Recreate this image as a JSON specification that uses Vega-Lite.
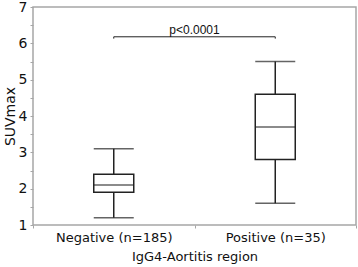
{
  "$schema": "https://vega.github.io/schema/vega-lite/v6.json",
  "width": 323,
  "height": 218,
  "autosize": {"type": "none"},
  "padding": {"left": 33, "top": 7, "right": 2, "bottom": 42},
  "background": "white",
  "config": {
    "view": {"stroke": "#a6a6a6", "strokeWidth": 1.5},
    "font": "DejaVu Sans",
    "axis": {"labelOverlap": false}
  },
  "resolve": {"axis": {"y": "independent"}},
  "datasets": {
    "boxes": [
      {"group": "Negative (n=185)", "min": 1.2, "q1": 1.9, "median": 2.1, "q3": 2.4, "max": 3.1},
      {"group": "Positive (n=35)", "min": 1.6, "q1": 2.8, "median": 3.7, "q3": 4.6, "max": 5.5}
    ],
    "bracket": [
      {"from": "Negative (n=185)", "to": "Positive (n=35)", "y": 6.18, "yend": 6.13, "label": "p<0.0001"}
    ]
  },
  "layer": [
    {
      "data": {"name": "boxes"},
      "mark": {"type": "rule", "color": "#222222", "strokeWidth": 1.5},
      "encoding": {
        "x": {
          "field": "group", "type": "nominal",
          "scale": {"paddingInner": 0, "paddingOuter": 0},
          "sort": null,
          "axis": {
            "title": "IgG4-Aortitis region",
            "titleFont": "DejaVu Sans", "titleFontSize": 13, "titleFontWeight": "normal", "titleColor": "#111111", "titlePadding": 6,
            "labelFont": "DejaVu Sans", "labelFontSize": 13, "labelColor": "#111111", "labelAngle": 0, "labelPadding": 3,
            "domain": false, "tickBand": "extent", "tickColor": "#a6a6a6", "tickSize": 3, "tickWidth": 1
          }
        },
        "y": {
          "field": "min", "type": "quantitative",
          "scale": {"domain": [1, 7], "nice": false, "zero": false},
          "axis": {
            "orient": "left",
            "title": "SUVmax",
            "titleFont": "DejaVu Sans", "titleFontSize": 14, "titleFontWeight": "normal", "titleColor": "#111111", "titlePadding": 1,
            "values": [1, 2, 3, 4, 5, 6, 7],
            "format": "d",
            "labelOverlap": false,
            "labelFont": "DejaVu Sans", "labelFontSize": 14, "labelColor": "#111111", "labelPadding": 3,
            "grid": false, "domain": false, "tickColor": "#a6a6a6", "tickSize": 3, "tickWidth": 1
          }
        },
        "y2": {"field": "max"}
      }
    },
    {
      "data": {"name": "boxes"},
      "mark": {"type": "bar", "size": 40, "fill": "white", "stroke": "#222222", "strokeWidth": 1.5},
      "encoding": {
        "x": {"field": "group", "type": "nominal", "sort": null},
        "y": {"field": "q1", "type": "quantitative", "axis": null},
        "y2": {"field": "q3"}
      }
    },
    {
      "data": {"name": "boxes"},
      "mark": {"type": "tick", "size": 40, "thickness": 1.5, "color": "#222222"},
      "encoding": {
        "x": {"field": "group", "type": "nominal", "sort": null},
        "y": {"field": "median", "type": "quantitative", "axis": null}
      }
    },
    {
      "data": {"name": "boxes"},
      "mark": {"type": "tick", "size": 40, "thickness": 1.5, "color": "#222222"},
      "encoding": {
        "x": {"field": "group", "type": "nominal", "sort": null},
        "y": {"field": "min", "type": "quantitative", "axis": null}
      }
    },
    {
      "data": {"name": "boxes"},
      "mark": {"type": "tick", "size": 40, "thickness": 1.5, "color": "#222222"},
      "encoding": {
        "x": {"field": "group", "type": "nominal", "sort": null},
        "y": {"field": "max", "type": "quantitative", "axis": null}
      }
    },
    {
      "data": {"name": "bracket"},
      "mark": {"type": "rule", "color": "#222222", "strokeWidth": 1},
      "encoding": {
        "x": {"field": "from", "type": "nominal", "bandPosition": 0.5},
        "x2": {"field": "to", "bandPosition": 0.5},
        "y": {"field": "y", "type": "quantitative", "axis": null}
      }
    },
    {
      "data": {"name": "bracket"},
      "mark": {"type": "rule", "color": "#222222", "strokeWidth": 1},
      "encoding": {
        "x": {"field": "from", "type": "nominal"},
        "y": {"field": "y", "type": "quantitative", "axis": null},
        "y2": {"field": "yend"}
      }
    },
    {
      "data": {"name": "bracket"},
      "mark": {"type": "rule", "color": "#222222", "strokeWidth": 1},
      "encoding": {
        "x": {"field": "to", "type": "nominal"},
        "y": {"field": "y", "type": "quantitative", "axis": null},
        "y2": {"field": "yend"}
      }
    },
    {
      "data": {"name": "bracket"},
      "mark": {"type": "text", "font": "Liberation Sans", "fontSize": 12, "color": "#111111", "baseline": "bottom", "align": "center", "dy": 0},
      "encoding": {
        "x": {"field": "to", "type": "nominal", "bandPosition": 0},
        "y": {
          "field": "y", "type": "quantitative",
          "axis": {
            "orient": "left", "title": null, "labels": false, "domain": false, "grid": false,
            "values": [1.5, 2.5, 3.5, 4.5, 5.5, 6.5],
            "tickColor": "#a6a6a6", "tickSize": 3, "tickWidth": 1
          }
        },
        "text": {"field": "label"}
      }
    }
  ]
}
